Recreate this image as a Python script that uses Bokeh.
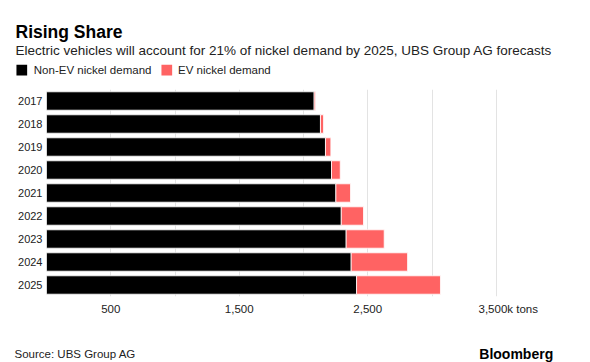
from bokeh.plotting import figure
from bokeh.layouts import column
from bokeh.models import ColumnDataSource, FactorRange, Range1d, FixedTicker
from bokeh.core.properties import value
from bokeh.embed import file_html
from bokeh.resources import INLINE

years = ["2017", "2018", "2019", "2020", "2021", "2022", "2023", "2024", "2025"]
non_ev = [2083, 2132, 2171, 2218, 2252, 2294, 2332, 2371, 2413]
ev = [11, 24, 42, 68, 114, 173, 296, 439, 653]
tick_values = [500, 1500, 2500, 3500]
tick_labels = ["500", "1,500", "2,500", "3,500k tons"]
grid_values = [500, 1000, 1500, 2000, 2500, 3000, 3500]
series_names = ["Non-EV nickel demand", "EV nickel demand"]

FONT = "Liberation Sans"
BLACK = "#000000"
RED = "#ff6363"
TXT = "#222222"
W = 590
X_MAX = 4000

# ---------------- header (title, subtitle, legend) ----------------
HEAD_H = 89
head = figure(width=W, height=HEAD_H, x_range=Range1d(0, W), y_range=Range1d(HEAD_H, 0),
              x_axis_location=None, y_axis_location=None, min_border=0,
              output_backend="svg", toolbar_location=None)
head.frame_align = False
head.outline_line_color = None
head.grid.visible = False
head.text(x=[15], y=[31.7], text=["Rising Share"], text_font=value(FONT),
          text_font_size="17.5px", text_font_style="bold", text_color="black",
          text_align="left", text_baseline="alphabetic")
head.text(x=[15], y=[49.5],
          text=["Electric vehicles will account for 21% of nickel demand by 2025, UBS Group AG forecasts"],
          text_font=value(FONT), text_font_size="13.5px", text_color=TXT,
          text_align="left", text_baseline="alphabetic")
head.rect(x=[21.3, 166.3], y=[69.7, 69.7], width=10.7, height=10.7,
          color=[BLACK, RED], line_color=None)
head.text(x=[33.3, 177.5], y=[69.7, 69.7], text=series_names, text_font=value(FONT),
          text_font_size="11.5px", text_color=TXT, text_align="left",
          text_baseline="middle")

# ---------------- main chart ----------------
MAIN_H = 233
LEFT, RIGHT, BOTTOM = 46, 30, 26
frame_w = W - LEFT - RIGHT
source = ColumnDataSource(data=dict(year=years, non_ev=non_ev, ev=ev))

p = figure(width=W, height=MAIN_H, title=None,
           y_range=FactorRange(factors=years[::-1]),
           x_range=Range1d(0, X_MAX),
           output_backend="svg", toolbar_location=None,
           min_border_left=LEFT, min_border_right=RIGHT,
           min_border_top=0, min_border_bottom=BOTTOM)
p.frame_align = False
p.outline_line_color = None

p.hbar_stack(["non_ev", "ev"], y="year", height=0.8,
             color=[BLACK, RED], line_color="white", line_width=0.8,
             source=source)

p.yaxis.axis_line_color = None
p.yaxis.major_tick_line_color = None
p.yaxis.minor_tick_line_color = None
p.yaxis.major_tick_out = 0
p.yaxis.major_tick_in = 0
p.yaxis.major_label_standoff = 4
p.yaxis.major_label_text_font = FONT
p.yaxis.major_label_text_font_size = "11px"
p.yaxis.major_label_text_color = TXT

# the last label ("3,500k tons") starts near its tick rather than being centred on it
unit_shift = 12.0 * X_MAX / frame_w
label_pos = tick_values[:-1] + [tick_values[-1] + unit_shift]
p.xaxis.ticker = FixedTicker(ticks=label_pos)
p.xaxis.major_label_overrides = dict(zip(label_pos, tick_labels))
p.xaxis.axis_line_color = None
p.xaxis.major_tick_line_color = None
p.xaxis.minor_tick_line_color = None
p.xaxis.major_tick_out = 0
p.xaxis.major_tick_in = 0
p.xaxis.major_label_standoff = 6
p.xaxis.major_label_text_font = FONT
p.xaxis.major_label_text_font_size = "11.5px"
p.xaxis.major_label_text_color = TXT

p.xgrid.ticker = FixedTicker(ticks=grid_values)
p.xgrid.grid_line_color = "#e3e3e3"
p.ygrid.grid_line_color = None

# ---------------- footer ----------------
FOOT_H = 362 - HEAD_H - MAIN_H
foot = figure(width=W, height=FOOT_H, x_range=Range1d(0, W), y_range=Range1d(FOOT_H, 0),
              x_axis_location=None, y_axis_location=None, min_border=0,
              output_backend="svg", toolbar_location=None)
foot.frame_align = False
foot.outline_line_color = None
foot.grid.visible = False
foot.text(x=[14], y=[31.5], text=["Source: UBS Group AG"], text_font=value(FONT),
          text_font_size="11.5px", text_color=TXT, text_align="left",
          text_baseline="alphabetic")
foot.text(x=[552.7], y=[31.3], text=["Bloomberg"], text_font=value(FONT),
          text_font_size="14px", text_font_style="bold", text_color="black",
          text_align="right", text_baseline="alphabetic")

layout = column(head, p, foot, spacing=0)
open("out.html", "w").write(file_html(layout, INLINE))
